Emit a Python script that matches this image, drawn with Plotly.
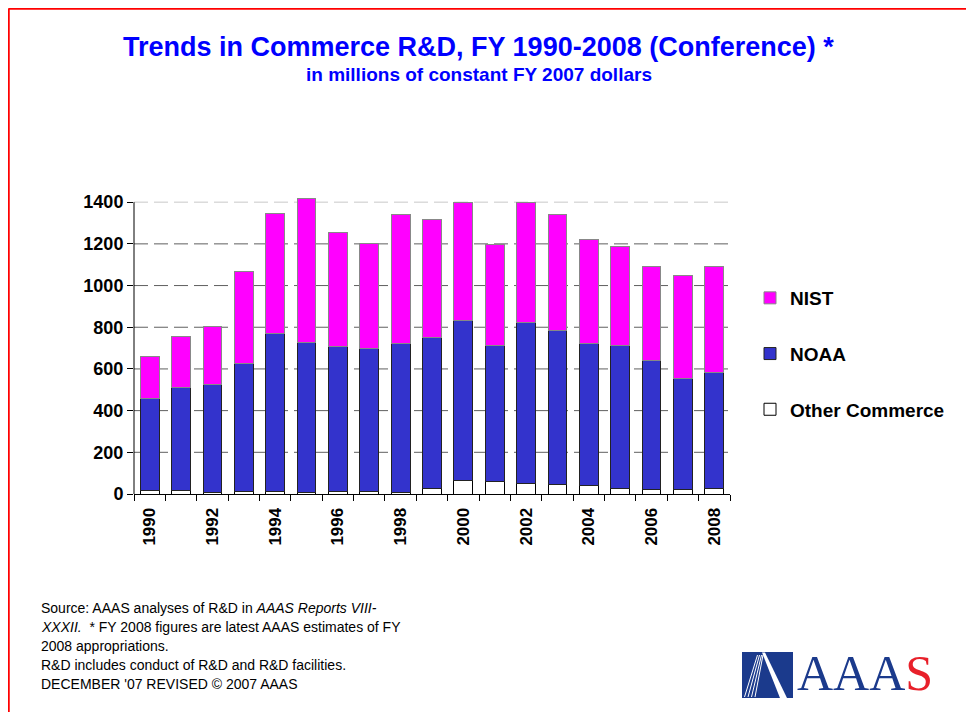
import plotly.graph_objects as go

# ---------------- data (millions of constant FY 2007 dollars) ----------------
years = list(range(1990, 2009))
other_commerce = [19, 19, 5, 10, 10, 8, 10, 10, 5, 27, 67, 60, 49, 44, 42, 28, 20, 20, 25]
noaa = [441, 492, 522, 618, 758, 720, 697, 688, 715, 724, 767, 654, 774, 742, 678, 686, 619, 534, 560]
nist = [201, 246, 276, 441, 579, 688, 549, 502, 622, 566, 564, 485, 577, 555, 501, 473, 451, 494, 505]
y_ticks = [0, 200, 400, 600, 800, 1000, 1200, 1400]
x_label_years = years[::2]

title_text = "Trends in Commerce R&D, FY 1990-2008 (Conference) *"
subtitle_text = "in millions of constant FY 2007 dollars"
source_lines = [
    "Source: AAAS analyses of R&D in <i>AAAS Reports VIII-</i>",
    "<i>XXXII.</i>  * FY 2008 figures are latest AAAS estimates of FY",
    "2008 appropriations.",
    "R&D includes conduct of R&D and R&D facilities.",
    "DECEMBER '07 REVISED © 2007 AAAS",
]

# ---------------- layout geometry (page pixels) ----------------
W, H = 974, 712
OFF = 8                      # page body margin
L, R, T, B = 134, 730, 198, 494
FONT = "Arial, Liberation Sans, sans-serif"


def px(x):
    return (x - L) / (R - L)


def py(y):
    return (B - y) / (B - T)


fig = go.Figure()
fig.add_trace(go.Bar(x=years, y=other_commerce, name="Other Commerce", legendrank=3,
                     legendgroup="c", marker=dict(color="white", line=dict(color="black", width=1))))
fig.add_trace(go.Bar(x=years, y=noaa, name="NOAA", legendgroup="b", legendrank=2,
                     marker=dict(color="#3333CC", line=dict(color="#222222", width=1))))
fig.add_trace(go.Bar(x=years, y=nist, name="NIST", legendgroup="a", legendrank=1,
                     marker=dict(color="#FF00FF", line=dict(color="#888888", width=1))))

shapes = []
# dashed gridlines
for v in y_ticks[1:]:
    shapes.append(dict(type="line", xref="paper", yref="y", x0=0, x1=1, y0=v, y1=v,
                       layer="below",
                       line=dict(color="#C8C8C8" if v == max(y_ticks) else "#606060",
                                 width=1, dash="14px,6px")))
# y axis line
shapes.append(dict(type="line", xref="paper", yref="y", x0=0, x1=0, y0=0, y1=max(y_ticks),
                   line=dict(color="black", width=1)))
# red border (top and left)
shapes.append(dict(type="line", xref="paper", yref="paper", x0=px(8.5), x1=px(990),
                   y0=py(8.5), y1=py(8.5), line=dict(color="#FF0000", width=2.5)))
shapes.append(dict(type="line", xref="paper", yref="paper", x0=px(8.5), x1=px(8.5),
                   y0=py(8.5), y1=py(730), line=dict(color="#FF0000", width=2.5)))

# AAAS logo mark
LOGO_BLUE = "#1B3A8C"
shapes.append(dict(type="rect", xref="paper", yref="paper", x0=px(742), x1=px(793),
                   y0=py(698), y1=py(652), fillcolor=LOGO_BLUE, line=dict(width=0)))


def path(points):
    return "M " + " L ".join(f"{px(a):.5f},{py(b):.5f}" for a, b in points) + " Z"


shapes.append(dict(type="path", xref="paper", yref="paper",
                   path=path([(762, 652.5), (765, 652.5), (787, 698), (780, 698)]),
                   fillcolor="white", line=dict(width=0)))
for (xa, xb) in [(757.5, 744.5), (759.5, 748), (761.5, 751.5), (763, 755)]:
    shapes.append(dict(type="line", xref="paper", yref="paper", x0=px(xa), y0=py(655),
                       x1=px(xb), y1=py(697), line=dict(color="white", width=1)))

annotations = [
    dict(text=f"<b>{title_text}</b>", x=px(478), y=py(47), xref="paper", yref="paper",
         xanchor="center", yanchor="middle", showarrow=False,
         font=dict(family=FONT, size=27, color="#0000FF")),
    dict(text=f"<b>{subtitle_text}</b>", x=px(479), y=py(75), xref="paper", yref="paper",
         xanchor="center", yanchor="middle", showarrow=False,
         font=dict(family=FONT, size=19, color="#0000FF")),
    dict(text="AAA<span style='color:#E8202A'>S</span>", x=px(795), y=py(673),
         xref="paper", yref="paper", xanchor="left", yanchor="middle", showarrow=False,
         font=dict(family="Liberation Serif, Times New Roman, serif", size=50, color=LOGO_BLUE)),
]
for i, line in enumerate(source_lines):
    annotations.append(dict(text=line, x=px(39), y=py(608 + 19 * i), xref="paper", yref="paper",
                            xanchor="left", yanchor="middle", showarrow=False, align="left",
                            font=dict(family=FONT, size=14, color="black")))

fig.update_layout(
    width=W - OFF, height=H - OFF,
    margin=dict(l=L - OFF, r=W - R, t=T - OFF, b=H - B, pad=0),
    paper_bgcolor="white", plot_bgcolor="white",
    barmode="stack", bargap=0.4,
    font=dict(family=FONT, color="black"),
    shapes=shapes, annotations=annotations,
    legend=dict(x=px(750), y=py(279), xanchor="left", yanchor="top",
                traceorder="grouped", tracegroupgap=28,
                font=dict(family=FONT, size=19, color="black", weight="bold"),
                bgcolor="rgba(0,0,0,0)"),
    xaxis=dict(range=[years[0] - 0.5, years[-1] + 0.5], tickmode="array",
               tickvals=x_label_years, ticktext=[str(y) for y in x_label_years],
               tickangle=-90, ticks="outside", ticklen=6, tickcolor="rgba(0,0,0,0)",
               showline=True, linecolor="black", linewidth=1, showgrid=False, zeroline=False,
               tickfont=dict(family=FONT, size=17, color="black", weight="bold"),
               minor=dict(tickmode="array",
                          tickvals=[y - 0.5 for y in years] + [years[-1] + 0.5],
                          ticks="outside", ticklen=6, tickcolor="black", showgrid=False)),
    yaxis=dict(range=[0, 1420], tickmode="array", tickvals=y_ticks,
               ticks="outside", ticklen=6, tickcolor="black", showline=False,
               showgrid=False, zeroline=False,
               tickfont=dict(family=FONT, size=18, color="black", weight="bold")),
)

fig.write_html("out.html")
